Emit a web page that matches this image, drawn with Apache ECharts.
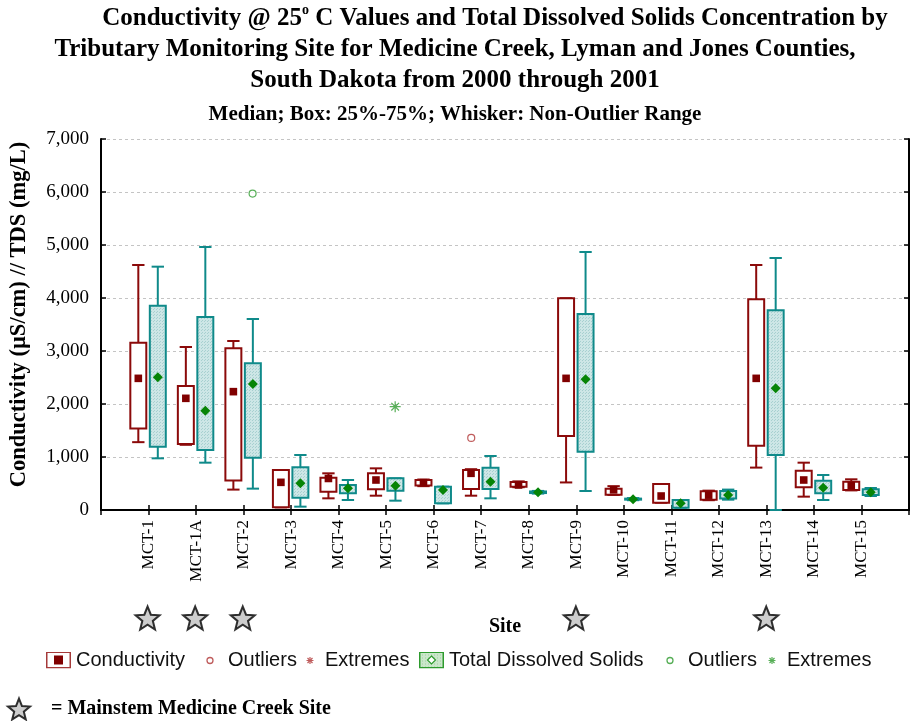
<!DOCTYPE html>
<html>
<head>
<meta charset="utf-8">
<script src="https://cdn.jsdelivr.net/npm/echarts@6/dist/echarts.min.js"></script>
<style>
html,body{margin:0;padding:0;background:#ffffff;}
#chart{width:910px;height:721px;}
</style>
</head>
<body>
<div id="chart"></div>
<script>
// ---------- data ----------
const sites = ['MCT-1','MCT-1A','MCT-2','MCT-3','MCT-4','MCT-5','MCT-6','MCT-7','MCT-8','MCT-9','MCT-10','MCT-11','MCT-12','MCT-13','MCT-14','MCT-15'];
const xCategories = [''].concat(sites, ['']);

// Conductivity (uS/cm): non-outlier min, 25%, median, 75%, non-outlier max
const condMin    = [1280,1230, 385,  50, 220, 270, 450, 270, 430, 520, 285, 138, 185, 800, 252, 370];
const condQ1     = [1540,1245, 555,  50, 346, 390, 460, 396, 440,1396, 290, 138, 195,1214, 428, 377];
const condMedian = [2484,2107,2233, 522, 595, 566, 515, 692, 472,2484, 380, 264, 280,2484, 566, 459];
const condQ3     = [3157,2340,3050, 755, 610, 692, 565, 755, 530,3994, 400, 491, 355,3975, 742, 535];
const condMax    = [4623,3075,3189, 755, 692, 786, 575, 770, 540,3994, 450, 491, 365,4623, 893, 579];

// Total Dissolved Solids (mg/L)
const tdsMin    = [ 975, 893, 403,  63, 189, 176, 126, 220, 310, 358, 185,  44, 195,   0, 189, 264];
const tdsQ1     = [1195,1132, 987, 233, 314, 365, 126, 396, 320,1101, 195,  44, 215,1038, 314, 283];
const tdsMedian = [2503,1874,2377, 503, 409, 459, 377, 535, 333,2465, 205, 126, 285,2295, 421, 333];
const tdsQ3     = [3855,3641,2767, 805, 472, 597, 440, 799, 350,3698, 215, 189, 360,3767, 553, 390];
const tdsMax    = [4591,4962,3604,1038, 566, 597, 440,1019, 360,4868, 225, 189, 385,4755, 660, 415];

const condOutliers = [['MCT-7', 1360]];
const condExtremes = [];
const tdsOutliers  = [['MCT-2', 5970]];
const tdsExtremes  = [['MCT-5', 1950]];

const mainstemSites = ['MCT-1','MCT-1A','MCT-2','MCT-9','MCT-13'];

const yMin = 0, yMax = 7000, yInterval = 1000;

// ---------- styling helpers ----------
const COND = '#8b0a0a', COND_MED = '#800000';
const TDS = '#0f8a8a', TDS_MED = '#068406';
const SERIF = "'Liberation Serif','Times New Roman',serif";
const SANS = "'Liberation Sans',Arial,sans-serif";

function makePattern(){
  const c = document.createElement('canvas');
  c.width = 3; c.height = 3;
  const g = c.getContext('2d');
  g.fillStyle = '#cde6e6'; g.fillRect(0,0,3,3);
  g.fillStyle = '#a7d0d0'; g.fillRect(0,0,1,1); g.fillRect(1,2,1,1);
  return c;
}
const tdsPattern = {image: makePattern(), repeat: 'repeat'};

function boxData(mins, q1, med, q3, maxs){
  return sites.map((s,i)=>[s, mins[i], q1[i], med[i], q3[i], maxs[i]]);
}

function makeRenderer(kind){
  return function(params, api){
    const x = api.value(0);
    const bw = api.size([1,0])[0];
    const off = (kind === 'cond' ? -0.215 : 0.195) * bw;
    const half = 0.168 * bw, capHalf = 0.13 * bw;
    const p = v => api.coord([x, v]);
    const cx = p(api.value(1))[0] + off;
    const yLo = p(api.value(1))[1], yQ1 = p(api.value(2))[1], yMd = p(api.value(3))[1],
          yQ3 = p(api.value(4))[1], yHi = p(api.value(5))[1];
    const stroke = kind === 'cond' ? COND : TDS;
    const ls = {stroke: stroke, lineWidth: 2};
    const children = [
      {type:'line', shape:{x1:cx, y1:yQ3, x2:cx, y2:yHi}, style: ls},
      {type:'line', shape:{x1:cx, y1:yQ1, x2:cx, y2:yLo}, style: ls},
      {type:'line', shape:{x1:cx-capHalf, y1:yHi, x2:cx+capHalf, y2:yHi}, style: ls},
      {type:'line', shape:{x1:cx-capHalf, y1:yLo, x2:cx+capHalf, y2:yLo}, style: ls},
      {type:'rect', shape:{x:cx-half, y:yQ3, width:2*half, height:Math.max(yQ1-yQ3,1)},
        style:{fill: kind === 'cond' ? '#ffffff' : tdsPattern, stroke: stroke, lineWidth: 2}}
    ];
    if (kind === 'cond') {
      children.push({type:'rect', shape:{x:cx-3.8, y:yMd-3.8, width:7.6, height:7.6}, style:{fill: COND_MED}});
    } else {
      children.push({type:'polygon', shape:{points:[[cx,yMd-5],[cx+5,yMd],[cx,yMd+5],[cx-5,yMd]]}, style:{fill: TDS_MED}});
    }
    return {type:'group', children: children};
  };
}

const svgIcon = s => 'image://data:image/svg+xml;charset=utf-8,' + encodeURIComponent(s);
const NS = 'xmlns="http://www.w3.org/2000/svg"';
const iconCond = svgIcon(`<svg ${NS} width="25" height="17" viewBox="0 0 25 17"><rect x="0.75" y="0.75" width="23.5" height="15.5" fill="#fff" stroke="#a53a3a" stroke-width="1.5"/><rect x="8" y="4" width="9" height="9" fill="#800000"/></svg>`);
const iconTds = svgIcon(`<svg ${NS} width="25" height="17" viewBox="0 0 25 17"><defs><pattern id="p" width="3" height="3" patternUnits="userSpaceOnUse"><rect width="3" height="3" fill="#cbe7cb"/><rect width="1" height="1" fill="#9ccf9c"/></pattern></defs><rect x="0.75" y="0.75" width="23.5" height="15.5" fill="url(#p)" stroke="#2e9b2e" stroke-width="1.5"/><path d="M12.5 4.5 L16.5 8.5 L12.5 12.5 L8.5 8.5 Z" fill="#fff" stroke="#2e9b2e" stroke-width="1.2"/></svg>`);
const iconCircle = c => svgIcon(`<svg ${NS} width="26" height="17" viewBox="0 0 26 17"><circle cx="13" cy="9" r="3" fill="#fff" stroke="${c}" stroke-width="1.3"/></svg>`);
const iconStar6 = c => svgIcon(`<svg ${NS} width="20" height="17" viewBox="0 0 20 17"><g stroke="${c}" stroke-width="1.2"><line x1="6.5" y1="9" x2="13.5" y2="9"/><line x1="10" y1="5.5" x2="10" y2="12.5"/><line x1="7.5" y1="6.5" x2="12.5" y2="11.5"/><line x1="12.5" y1="6.5" x2="7.5" y2="11.5"/></g></svg>`);

const starPath = 'path://M50,2 L62.9,34.3 L97.6,36.6 L70.9,58.8 L79.4,92.5 L50,74 L20.6,92.5 L29.1,58.8 L2.4,36.6 L37.1,34.3 Z';
const asteriskPath = 'path://M0,5 L10,5 M5,0 L5,10 M1.5,1.5 L8.5,8.5 M8.5,1.5 L1.5,8.5';

function oneLegend(name, icon, left, w){
  return {
    data: [{name: name, icon: icon}], left: left, top: 650, padding: 0, itemGap: 0,
    itemWidth: w, itemHeight: 17, selectedMode: false,
    textStyle: {fontFamily: SANS, fontSize: 20, color: '#111', lineHeight: 17}
  };
}

const axisLineStyle = {show: true, lineStyle: {color: '#000', width: 2}};
const tickStyle = {show: true, inside: true, length: 5, lineStyle: {color: '#000', width: 1.5}};

const titleBase = {fontFamily: SERIF, fontWeight: 'bold', fontSize: 25, color: '#000'};

const option = {
  animation: false,
  backgroundColor: '#ffffff',
  title: [
    {
      text: '{l1|Conductivity} @ 25{sup|o} C Values and Total Dissolved Solids Concentration by\nTributary Monitoring Site for Medicine Creek, Lyman and Jones Counties,\nSouth Dakota from 2000 through 2001',
      left: 'center', top: 3, padding: 0,
      textStyle: Object.assign({lineHeight: 31, rich: {
        l1: Object.assign({lineHeight: 31, padding: [0, 0, 0, 80]}, titleBase),
        sup: {fontFamily: SERIF, fontWeight: 'bold', fontSize: 14, color: '#000', verticalAlign: 'top', lineHeight: 16}
      }}, titleBase)
    },
    {
      text: 'Median; Box: 25%-75%; Whisker: Non-Outlier Range',
      left: 'center', top: 104, padding: 0,
      textStyle: {fontFamily: SERIF, fontWeight: 'bold', fontSize: 21, color: '#000'}
    }
  ],
  legend: [
    oneLegend('Conductivity', iconCond, 46, 25),
    oneLegend('Outliers', iconCircle('#b03535'), 197, 26),
    oneLegend('Extremes', iconStar6('#b03535'), 300, 20),
    oneLegend('Total Dissolved Solids', iconTds, 419, 25),
    oneLegend('Outliers ', iconCircle('#2e9b2e'), 657, 26),
    oneLegend('Extremes ', iconStar6('#2e9b2e'), 762, 20),
    {
      data: ['= Mainstem Medicine Creek Site'], left: 7, top: 695, padding: 0,
      itemWidth: 22, itemHeight: 23, selectedMode: false, symbolKeepAspect: true,
      textStyle: {fontFamily: SERIF, fontWeight: 'bold', fontSize: 20, color: '#000', lineHeight: 23, padding: [5,0,0,16]}
    }
  ],
  grid: [
    {left: 100, right: 1, top: 139, bottom: 211, containLabel: false},
    {left: 100, right: 1, top: 598, height: 40, containLabel: false}
  ],
  xAxis: [
    {
      type: 'category', data: xCategories, boundaryGap: false, gridIndex: 0, position: 'bottom',
      name: 'Site', nameLocation: 'middle', nameGap: 107,
      nameTextStyle: {fontFamily: SERIF, fontWeight: 'bold', fontSize: 20, color: '#000'},
      axisLine: axisLineStyle, axisTick: Object.assign({interval: 0}, tickStyle),
      axisLabel: {interval: 0, rotate: 90, margin: 10, fontFamily: SERIF, fontSize: 17, color: '#000'},
      splitLine: {show: false}
    },
    {
      type: 'category', data: xCategories, boundaryGap: false, gridIndex: 0, position: 'top',
      axisLine: axisLineStyle, axisTick: Object.assign({interval: 0}, tickStyle),
      axisLabel: {show: false}, splitLine: {show: false}
    },
    {
      type: 'category', data: xCategories, boundaryGap: false, gridIndex: 1, show: false
    }
  ],
  yAxis: [
    {
      type: 'value', min: yMin, max: yMax, interval: yInterval, gridIndex: 0, position: 'left',
      name: 'Conductivity (µS/cm) // TDS (mg/L)', nameLocation: 'middle', nameGap: 70,
      nameTextStyle: {fontFamily: SERIF, fontWeight: 'bold', fontSize: 22.5, color: '#000', padding: [0, 0, 0, 20]},
      axisLine: axisLineStyle, axisTick: tickStyle,
      axisLabel: {margin: 12, fontFamily: SERIF, fontSize: 19, color: '#000',
        formatter: v => v.toLocaleString('en-US')},
      splitLine: {show: true, lineStyle: {color: '#c4c4c4', type: [3, 3], width: 1}}
    },
    {
      type: 'value', min: yMin, max: yMax, interval: yInterval, gridIndex: 0, position: 'right',
      axisLine: axisLineStyle, axisTick: tickStyle, axisLabel: {show: false}, splitLine: {show: false}
    },
    {type: 'value', min: 0, max: 1, gridIndex: 1, show: false}
  ],
  series: [
    {
      name: 'Conductivity', type: 'custom', xAxisIndex: 0, yAxisIndex: 0,
      renderItem: makeRenderer('cond'), encode: {x: 0, y: [1,2,3,4,5]},
      data: boxData(condMin, condQ1, condMedian, condQ3, condMax), z: 3
    },
    {
      name: 'Total Dissolved Solids', type: 'custom', xAxisIndex: 0, yAxisIndex: 0,
      renderItem: makeRenderer('tds'), encode: {x: 0, y: [1,2,3,4,5]},
      data: boxData(tdsMin, tdsQ1, tdsMedian, tdsQ3, tdsMax), z: 3
    },
    {
      name: 'Outliers', type: 'scatter', xAxisIndex: 0, yAxisIndex: 0, data: condOutliers,
      symbol: 'circle', symbolSize: 7, symbolOffset: [-10, 0],
      itemStyle: {color: '#ffffff', borderColor: '#b03535', borderWidth: 1.2}, z: 4
    },
    {
      name: 'Extremes', type: 'scatter', xAxisIndex: 0, yAxisIndex: 0, data: condExtremes,
      symbol: asteriskPath, symbolSize: 11, symbolOffset: [-10, 0],
      itemStyle: {color: 'none', borderColor: '#b03535', borderWidth: 1.2}, z: 4
    },
    {
      name: 'Outliers ', type: 'scatter', xAxisIndex: 0, yAxisIndex: 0, data: tdsOutliers,
      symbol: 'circle', symbolSize: 7, symbolOffset: [9, 0],
      itemStyle: {color: '#ffffff', borderColor: '#2e9b2e', borderWidth: 1.2}, z: 4
    },
    {
      name: 'Extremes ', type: 'scatter', xAxisIndex: 0, yAxisIndex: 0, data: tdsExtremes,
      symbol: asteriskPath, symbolSize: 11, symbolOffset: [9, 0],
      itemStyle: {color: 'none', borderColor: '#2e9b2e', borderWidth: 1.2}, z: 4
    },
    {
      name: '= Mainstem Medicine Creek Site', type: 'scatter', xAxisIndex: 2, yAxisIndex: 2,
      data: mainstemSites.map(s => [s, 0.5]),
      symbol: starPath, symbolSize: [24, 23],
      itemStyle: {color: '#c0c0c0', borderColor: '#000000', borderWidth: 2}, z: 4
    }
  ]
};

const chart = echarts.init(document.getElementById('chart'), null, {renderer: 'canvas'});
chart.setOption(option);
</script>
</body>
</html>
